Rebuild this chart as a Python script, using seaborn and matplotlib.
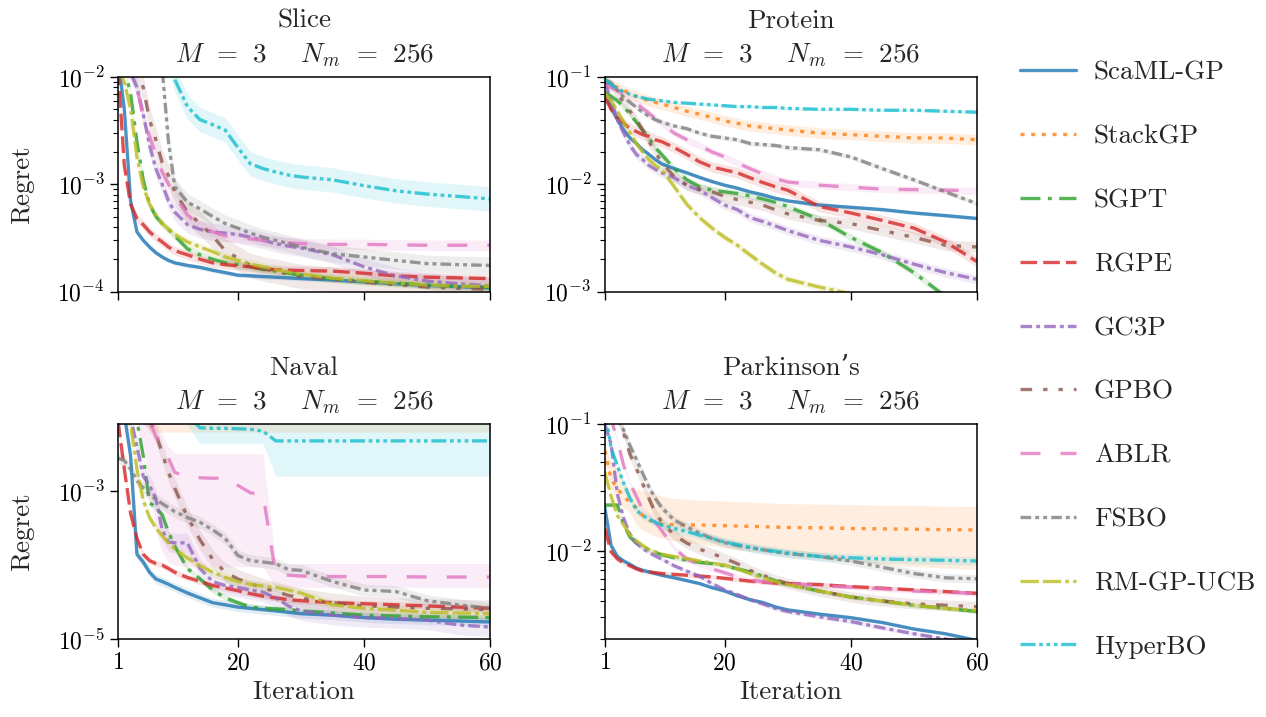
import numpy as np
import pandas as pd
import matplotlib
matplotlib.use("Agg")
import matplotlib.pyplot as plt
from matplotlib.lines import Line2D
from matplotlib.ticker import FixedLocator, NullLocator
import seaborn as sns

# ---------------- data ----------------
ITERS = [1, 2, 3, 4, 5, 6, 7, 8, 9, 10, 12, 14, 16, 18, 20, 22, 24, 26, 28, 30, 35, 40, 45, 50, 55, 60]
METHODS = ["ScaML-GP", "StackGP", "SGPT", "RGPE", "GC3P", "GPBO", "ABLR", "FSBO", "RM-GP-UCB", "HyperBO"]
PANELS = ["Slice", "Protein", "Naval", "Parkinson\u2019s"]
SUBTITLE = r"$M\;\,=\;\,3\quad\;\, N_m\;\,=\;\,256$"

SLICE = {
    "ScaML-GP": [1.5e-2, 5e-3, 7e-4, 3.6e-4, 3.0e-4, 2.6e-4, 2.3e-4, 2.1e-4, 1.95e-4, 1.85e-4, 1.75e-4, 1.68e-4, 1.58e-4, 1.5e-4, 1.42e-4, 1.4e-4, 1.38e-4, 1.36e-4, 1.34e-4, 1.32e-4, 1.28e-4, 1.23e-4, 1.18e-4, 1.14e-4, 1.11e-4, 1.08e-4],
    "StackGP": [4e-2, 3.8e-2, 3.6e-2, 3.5e-2, 3.4e-2, 3.3e-2, 3.2e-2, 3.1e-2, 3.0e-2, 3.0e-2, 2.9e-2, 2.8e-2, 2.7e-2, 2.6e-2, 2.5e-2, 2.5e-2, 2.4e-2, 2.4e-2, 2.3e-2, 2.3e-2, 2.2e-2, 2.1e-2, 2.0e-2, 2.0e-2, 1.9e-2, 1.9e-2],
    "SGPT": [1.5e-2, 1.2e-2, 7e-3, 2.5e-3, 1.1e-3, 6.5e-4, 5e-4, 4.3e-4, 3.8e-4, 3.3e-4, 2.5e-4, 2.2e-4, 2.0e-4, 1.85e-4, 1.78e-4, 1.7e-4, 1.6e-4, 1.55e-4, 1.48e-4, 1.42e-4, 1.32e-4, 1.25e-4, 1.2e-4, 1.15e-4, 1.12e-4, 1.1e-4],
    "RGPE": [1.2e-2, 1.5e-3, 6.5e-4, 4.8e-4, 4.2e-4, 3.6e-4, 3.2e-4, 2.9e-4, 2.6e-4, 2.4e-4, 2.2e-4, 2.0e-4, 1.85e-4, 1.78e-4, 1.74e-4, 1.7e-4, 1.62e-4, 1.6e-4, 1.58e-4, 1.57e-4, 1.55e-4, 1.48e-4, 1.4e-4, 1.36e-4, 1.34e-4, 1.32e-4],
    "GC3P": [1.5e-2, 1.3e-2, 1.1e-2, 8e-3, 4.5e-3, 2.3e-3, 1.4e-3, 1.0e-3, 7e-4, 5.5e-4, 4.2e-4, 3.8e-4, 3.6e-4, 3.5e-4, 3.4e-4, 3.2e-4, 3.0e-4, 2.8e-4, 2.65e-4, 2.55e-4, 2.2e-4, 1.7e-4, 1.4e-4, 1.25e-4, 1.18e-4, 1.13e-4],
    "GPBO": [1.5e-2, 1.4e-2, 1.3e-2, 1.1e-2, 8e-3, 4e-3, 2.6e-3, 1.6e-3, 1.2e-3, 8.5e-4, 5.5e-4, 4.3e-4, 3.3e-4, 2.4e-4, 2.05e-4, 1.75e-4, 1.62e-4, 1.55e-4, 1.45e-4, 1.38e-4, 1.3e-4, 1.22e-4, 1.16e-4, 1.1e-4, 1.07e-4, 1.05e-4],
    "ABLR": [1.5e-2, 1.3e-2, 1.1e-2, 8e-3, 4.2e-3, 2.8e-3, 1.9e-3, 1.3e-3, 1.0e-3, 7.8e-4, 5.2e-4, 4.1e-4, 3.6e-4, 3.3e-4, 3.2e-4, 3.1e-4, 3.0e-4, 2.9e-4, 2.85e-4, 2.8e-4, 2.75e-4, 2.75e-4, 2.72e-4, 2.7e-4, 2.7e-4, 2.7e-4],
    "FSBO": [2e-2, 2e-2, 2e-2, 2e-2, 2e-2, 1.9e-2, 1.7e-2, 1.2e-2, 2.5e-3, 9.5e-4, 6.8e-4, 5.9e-4, 5e-4, 4.3e-4, 3.9e-4, 3.5e-4, 3.2e-4, 3.0e-4, 2.8e-4, 2.6e-4, 2.25e-4, 2.1e-4, 1.95e-4, 1.82e-4, 1.78e-4, 1.75e-4],
    "RM-GP-UCB": [1.2e-2, 9e-3, 5e-3, 1.8e-3, 9.5e-4, 6.5e-4, 5.2e-4, 4.3e-4, 3.8e-4, 3.4e-4, 2.9e-4, 2.6e-4, 2.35e-4, 2.1e-4, 1.95e-4, 1.8e-4, 1.7e-4, 1.6e-4, 1.52e-4, 1.45e-4, 1.33e-4, 1.26e-4, 1.2e-4, 1.15e-4, 1.12e-4, 1.12e-4],
    "HyperBO": [2e-2, 2e-2, 2e-2, 2e-2, 2e-2, 2e-2, 2e-2, 2e-2, 1.5e-2, 9.5e-3, 5.3e-3, 4.0e-3, 3.6e-3, 3.2e-3, 2.2e-3, 1.55e-3, 1.4e-3, 1.3e-3, 1.22e-3, 1.17e-3, 1.1e-3, 9.7e-4, 8.7e-4, 8.1e-4, 7.7e-4, 7.3e-4],
}

PROTEIN = {
    "ScaML-GP": [0.07, 0.052, 0.04, 0.032, 0.027, 0.024, 0.021, 0.019, 0.017, 0.0155, 0.014, 0.0128, 0.0116, 0.0106, 0.0098, 0.0092, 0.0085, 0.008, 0.0074, 0.007, 0.0064, 0.0061, 0.0058, 0.0054, 0.0051, 0.0048],
    "StackGP": [0.09, 0.085, 0.08, 0.075, 0.07, 0.066, 0.063, 0.06, 0.058, 0.056, 0.052, 0.048, 0.045, 0.042, 0.039, 0.037, 0.035, 0.034, 0.033, 0.032, 0.03, 0.029, 0.028, 0.027, 0.027, 0.026],
    "SGPT": [0.072, 0.066, 0.06, 0.053, 0.045, 0.038, 0.032, 0.027, 0.022, 0.019, 0.014, 0.011, 0.0095, 0.0088, 0.0085, 0.0082, 0.0078, 0.0073, 0.0068, 0.0062, 0.0047, 0.0032, 0.0023, 0.0015, 0.0009, 0.0006],
    "RGPE": [0.065, 0.05, 0.042, 0.037, 0.033, 0.031, 0.029, 0.028, 0.026, 0.025, 0.022, 0.019, 0.0162, 0.0145, 0.0136, 0.0128, 0.0115, 0.0104, 0.0095, 0.0088, 0.0062, 0.0054, 0.0046, 0.0039, 0.0029, 0.0019],
    "GC3P": [0.09, 0.06, 0.04, 0.03, 0.023, 0.019, 0.017, 0.015, 0.0138, 0.0128, 0.0115, 0.0098, 0.0088, 0.0075, 0.0064, 0.0058, 0.0049, 0.0045, 0.0041, 0.0037, 0.003, 0.0026, 0.0022, 0.0018, 0.0015, 0.0013],
    "GPBO": [0.09, 0.085, 0.07, 0.058, 0.048, 0.04, 0.032, 0.025, 0.02, 0.016, 0.0118, 0.0098, 0.009, 0.0085, 0.0077, 0.0072, 0.0068, 0.0064, 0.0058, 0.0053, 0.0046, 0.0043, 0.0037, 0.0032, 0.0027, 0.0026],
    "ABLR": [0.085, 0.08, 0.075, 0.07, 0.063, 0.057, 0.051, 0.046, 0.041, 0.037, 0.03, 0.026, 0.023, 0.02, 0.018, 0.0158, 0.014, 0.0125, 0.0113, 0.0105, 0.0098, 0.0094, 0.009, 0.0089, 0.0088, 0.0087],
    "FSBO": [0.095, 0.088, 0.075, 0.065, 0.058, 0.052, 0.047, 0.043, 0.04, 0.038, 0.035, 0.033, 0.03, 0.028, 0.027, 0.026, 0.024, 0.0235, 0.023, 0.022, 0.021, 0.018, 0.014, 0.011, 0.0085, 0.0066],
    "RM-GP-UCB": [0.07, 0.06, 0.048, 0.038, 0.03, 0.024, 0.02, 0.017, 0.015, 0.0138, 0.0095, 0.0065, 0.0049, 0.0039, 0.0032, 0.0027, 0.0022, 0.0018, 0.0015, 0.0013, 0.0011, 0.00095, 0.0008, 0.0007, 0.0006, 0.0005],
    "HyperBO": [0.095, 0.085, 0.078, 0.073, 0.069, 0.066, 0.064, 0.062, 0.061, 0.06, 0.058, 0.057, 0.056, 0.055, 0.054, 0.053, 0.053, 0.052, 0.052, 0.051, 0.05, 0.05, 0.049, 0.049, 0.048, 0.047],
}

NAVAL = {
    "ScaML-GP": [1.5e-2, 1.1e-2, 3e-3, 1.4e-4, 1.1e-4, 8e-5, 6.5e-5, 6e-5, 5.5e-5, 5e-5, 4.2e-5, 3.6e-5, 3.1e-5, 2.9e-5, 2.7e-5, 2.6e-5, 2.5e-5, 2.4e-5, 2.3e-5, 2.2e-5, 2.1e-5, 1.95e-5, 1.85e-5, 1.8e-5, 1.75e-5, 1.7e-5],
    "StackGP": [2e-2, 2e-2, 1.9e-2, 1.8e-2, 1.7e-2, 1.6e-2, 1.6e-2, 1.5e-2, 1.5e-2, 1.5e-2, 1.45e-2, 1.4e-2, 1.4e-2, 1.4e-2, 1.35e-2, 1.35e-2, 1.3e-2, 1.3e-2, 1.3e-2, 1.3e-2, 1.25e-2, 1.25e-2, 1.2e-2, 1.2e-2, 1.2e-2, 1.2e-2],
    "SGPT": [1.2e-2, 1.1e-2, 1e-2, 9e-3, 3e-3, 7e-4, 6e-4, 4.8e-4, 2.8e-4, 1.8e-4, 9e-5, 6.5e-5, 4.6e-5, 3.6e-5, 3.1e-5, 2.7e-5, 2.6e-5, 2.55e-5, 2.5e-5, 2.4e-5, 2.25e-5, 2.1e-5, 2.05e-5, 2.0e-5, 1.98e-5, 1.95e-5],
    "RGPE": [9e-3, 2e-3, 5e-4, 2.3e-4, 1.4e-4, 1.15e-4, 1.05e-4, 1e-4, 9e-5, 8e-5, 6.8e-5, 6e-5, 5.3e-5, 4.9e-5, 4.5e-5, 4.1e-5, 3.8e-5, 3.6e-5, 3.4e-5, 3.3e-5, 3.1e-5, 3.0e-5, 2.9e-5, 2.8e-5, 2.7e-5, 2.6e-5],
    "GC3P": [1.2e-2, 1.1e-2, 1e-2, 4e-3, 1.6e-3, 1.2e-3, 8e-4, 3e-4, 2.05e-4, 2e-4, 2e-4, 9e-5, 6e-5, 5.3e-5, 5e-5, 4.6e-5, 4.3e-5, 3.6e-5, 2.8e-5, 2.4e-5, 2.1e-5, 1.95e-5, 1.9e-5, 1.8e-5, 1.55e-5, 1.45e-5],
    "GPBO": [1.2e-2, 1.2e-2, 1.2e-2, 1.2e-2, 1.1e-2, 9e-3, 6e-3, 3.3e-3, 1.8e-3, 1.1e-3, 4.5e-4, 2.2e-4, 1.2e-4, 8e-5, 6.5e-5, 5.6e-5, 4.9e-5, 4.4e-5, 3.9e-5, 3.6e-5, 3.1e-5, 2.8e-5, 2.7e-5, 2.6e-5, 2.55e-5, 2.5e-5],
    "ABLR": [1.5e-2, 1.5e-2, 1.4e-2, 1.3e-2, 1.2e-2, 9e-3, 5.5e-3, 4e-3, 2.8e-3, 1.8e-3, 1.55e-3, 1.52e-3, 1.5e-3, 1.5e-3, 1.2e-3, 9.5e-4, 9e-4, 7.6e-5, 7.3e-5, 7.1e-5, 7e-5, 7e-5, 7e-5, 6.9e-5, 6.9e-5, 6.9e-5],
    "FSBO": [2.8e-3, 2.6e-3, 2e-3, 1.4e-3, 1.1e-3, 9e-4, 7.8e-4, 6.8e-4, 6e-4, 5.3e-4, 4.4e-4, 3.8e-4, 3.0e-4, 2.3e-4, 1.35e-4, 1.15e-4, 1.1e-4, 1.05e-4, 8.7e-5, 8.5e-5, 6e-5, 4.6e-5, 4.4e-5, 3.3e-5, 2.9e-5, 2.6e-5],
    "RM-GP-UCB": [1.2e-2, 1.0e-2, 8e-3, 2e-3, 7.5e-4, 4.4e-4, 3.2e-4, 2.5e-4, 2.0e-4, 1.65e-4, 1.25e-4, 9.8e-5, 8e-5, 6.8e-5, 6e-5, 5.5e-5, 5.2e-5, 5e-5, 4.6e-5, 4.2e-5, 2.9e-5, 2.6e-5, 2.45e-5, 2.3e-5, 2.25e-5, 2.2e-5],
    "HyperBO": [1.5e-2, 1.5e-2, 1.5e-2, 1.5e-2, 1.5e-2, 1.5e-2, 1.5e-2, 1.5e-2, 1.5e-2, 1.4e-2, 1.1e-2, 7.2e-3, 7.1e-3, 7.1e-3, 7e-3, 6.9e-3, 6.5e-3, 4.8e-3, 4.8e-3, 4.8e-3, 4.8e-3, 4.8e-3, 4.8e-3, 4.8e-3, 4.8e-3, 4.8e-3],
}

PARKINSONS = {
    "ScaML-GP": [0.022, 0.011, 9e-3, 8.3e-3, 7.8e-3, 7.3e-3, 7e-3, 6.8e-3, 6.6e-3, 6.4e-3, 6.1e-3, 5.8e-3, 5.5e-3, 5.1e-3, 4.8e-3, 4.4e-3, 4.1e-3, 3.9e-3, 3.6e-3, 3.4e-3, 3.15e-3, 2.95e-3, 2.7e-3, 2.4e-3, 2.2e-3, 1.95e-3],
    "StackGP": [0.062, 0.037, 0.031, 0.027, 0.024, 0.022, 0.019, 0.0175, 0.0168, 0.0163, 0.0161, 0.016, 0.016, 0.0159, 0.0158, 0.0157, 0.0156, 0.0155, 0.0154, 0.0153, 0.0152, 0.015, 0.0149, 0.0148, 0.0147, 0.0146],
    "SGPT": [0.023, 0.023, 0.023, 0.016, 0.0128, 0.0115, 0.0107, 0.0102, 9.7e-3, 9.3e-3, 8.8e-3, 8.4e-3, 8.1e-3, 7.9e-3, 7.6e-3, 7.2e-3, 6.8e-3, 6.3e-3, 5.8e-3, 5.4e-3, 4.8e-3, 4.3e-3, 4.0e-3, 3.7e-3, 3.5e-3, 3.3e-3],
    "RGPE": [0.015, 0.0098, 8.6e-3, 8e-3, 7.6e-3, 7.2e-3, 6.9e-3, 6.8e-3, 6.7e-3, 6.6e-3, 6.5e-3, 6.4e-3, 6.3e-3, 6.2e-3, 6.05e-3, 5.9e-3, 5.75e-3, 5.65e-3, 5.55e-3, 5.5e-3, 5.4e-3, 5.2e-3, 5.05e-3, 4.9e-3, 4.75e-3, 4.6e-3],
    "GC3P": [0.1, 0.07, 0.028, 0.018, 0.0135, 0.0115, 0.0104, 9.7e-3, 9.1e-3, 8.6e-3, 7.6e-3, 6.9e-3, 6.3e-3, 5.5e-3, 4.9e-3, 4.5e-3, 4.1e-3, 3.8e-3, 3.5e-3, 3.3e-3, 3.0e-3, 2.75e-3, 2.45e-3, 2.2e-3, 2.0e-3, 1.85e-3],
    "GPBO": [0.15, 0.14, 0.12, 0.085, 0.058, 0.045, 0.034, 0.026, 0.02, 0.017, 0.0133, 0.0115, 0.0103, 9.5e-3, 8.7e-3, 7.9e-3, 7.0e-3, 6.4e-3, 5.9e-3, 5.5e-3, 4.8e-3, 4.3e-3, 4.0e-3, 3.8e-3, 3.7e-3, 3.6e-3],
    "ABLR": [0.12, 0.11, 0.075, 0.047, 0.034, 0.027, 0.021, 0.019, 0.0168, 0.0145, 0.0105, 8.6e-3, 7.8e-3, 7.2e-3, 6.7e-3, 6.2e-3, 5.9e-3, 5.7e-3, 5.6e-3, 5.5e-3, 5.3e-3, 5.15e-3, 5.0e-3, 4.8e-3, 4.7e-3, 4.6e-3],
    "FSBO": [0.2, 0.15, 0.11, 0.09, 0.068, 0.053, 0.041, 0.032, 0.026, 0.022, 0.0175, 0.0155, 0.0138, 0.0125, 0.0116, 0.011, 0.0106, 0.0102, 9.8e-3, 9.5e-3, 9e-3, 8.3e-3, 7.4e-3, 6.6e-3, 6.1e-3, 6.0e-3],
    "RM-GP-UCB": [0.042, 0.027, 0.019, 0.016, 0.0134, 0.012, 0.011, 0.0102, 9.8e-3, 9.4e-3, 9e-3, 8.7e-3, 8.3e-3, 8e-3, 7.7e-3, 7.2e-3, 6.6e-3, 6.1e-3, 5.7e-3, 5.4e-3, 4.8e-3, 4.3e-3, 4.0e-3, 3.7e-3, 3.5e-3, 3.35e-3],
    "HyperBO": [0.13, 0.065, 0.047, 0.034, 0.026, 0.021, 0.019, 0.0178, 0.0168, 0.016, 0.015, 0.0142, 0.0133, 0.0125, 0.0117, 0.0112, 0.0106, 0.0102, 9.9e-3, 9.6e-3, 9e-3, 8.8e-3, 8.6e-3, 8.5e-3, 8.4e-3, 8.3e-3],
}

# relative half-width of the shaded bands (multiplicative), per method
SPREAD_SLICE = [1.05, 1.15, 1.08, 1.1, 1.2, 1.3, 1.12, 1.2, 1.1, 1.3]
SPREAD_PROTEIN = [1.04, 1.12, 1.08, 1.12, 1.1, 1.12, 1.08, 1.05, 1.08, 1.03]
SPREAD_NAVAL = [1.15, 1.2, 1.1, 1.1, 1.35, 1.35, 1.2, 1.2, 1.15, 1.2]
SPREAD_PARKINSONS = [1.03, 1.1, 1.04, 1.04, 1.04, 1.1, 1.05, 1.08, 1.04, 1.08]

# explicitly read wide bands
NAVAL_BAND_LO = {
    "StackGP": [1e-2, 1e-2, 1e-2, 1e-2, 1e-2, 6.3e-3, 6.3e-3, 6.3e-3, 6.3e-3, 6.3e-3, 6.3e-3, 6.3e-3, 6.3e-3, 6.3e-3, 6.3e-3, 6.3e-3, 6.3e-3, 6.3e-3, 6.3e-3, 6.3e-3, 6.3e-3, 6.3e-3, 6.3e-3, 6.3e-3, 6.3e-3, 6.3e-3],
    "HyperBO": [1e-2, 1e-2, 1e-2, 1e-2, 1e-2, 1e-2, 1e-2, 1e-2, 1e-2, 1e-2, 8e-3, 4.4e-3, 4.4e-3, 4.4e-3, 4.4e-3, 4.4e-3, 4.4e-3, 1.6e-3, 1.6e-3, 1.6e-3, 1.6e-3, 1.6e-3, 1.6e-3, 1.6e-3, 1.6e-3, 1.6e-3],
    "ABLR": [1e-2, 1e-2, 1e-2, 8e-3, 4e-3, 1e-3, 3e-4, 1.5e-4, 1.1e-4, 1e-4, 9.5e-5, 9.5e-5, 9.5e-5, 9.5e-5, 9.5e-5, 9.5e-5, 9.5e-5, 5e-5, 5e-5, 5e-5, 5e-5, 5e-5, 5e-5, 5e-5, 5e-5, 5e-5],
}
NAVAL_BAND_HI = {
    "StackGP": [3e-2] * 26,
    "HyperBO": [2e-2] * 26,
    "ABLR": [2e-2, 2e-2, 2e-2, 2e-2, 2e-2, 1.5e-2, 1e-2, 6e-3, 4e-3, 3.3e-3, 3.2e-3, 3.2e-3, 3.2e-3, 3.2e-3, 3.2e-3, 3.2e-3, 3.2e-3, 1.05e-4, 1.05e-4, 1.05e-4, 1.05e-4, 1.05e-4, 1.05e-4, 1.05e-4, 1.05e-4, 1.05e-4],
}
PARK_BAND_LO = {
    "StackGP": [0.05, 0.03, 0.025, 0.022, 0.02, 0.016, 0.0145, 0.0138, 0.013, 0.0126, 0.012, 0.0117, 0.0113, 0.011, 0.0105, 0.0102, 0.01, 0.0098, 0.0095, 0.0092, 0.0087, 0.0082, 0.0078, 0.0075, 0.0073, 0.0071],
}
PARK_BAND_HI = {
    "StackGP": [0.07, 0.05, 0.045, 0.035, 0.031, 0.031, 0.03, 0.029, 0.028, 0.027, 0.026, 0.0255, 0.025, 0.025, 0.0248, 0.0245, 0.0243, 0.024, 0.0238, 0.0236, 0.0234, 0.0232, 0.023, 0.0228, 0.0226, 0.0225],
}

# ---------------- style ----------------
COLORS = sns.color_palette("tab10", 10)
PALETTE = dict(zip(METHODS, COLORS))
DASHES = {
    "ScaML-GP": "",
    "StackGP": (1.2, 2.0),
    "SGPT": (6.0, 2.2, 1.2, 2.2),
    "RGPE": (5.0, 1.8),
    "GC3P": (3.5, 1.2, 1.2, 1.2),
    "GPBO": (3.5, 3.3, 1.3, 3.3, 1.3, 3.3),
    "ABLR": (6.0, 6.0),
    "FSBO": (3.2, 1.2, 1.2, 1.2, 1.2, 1.2),
    "RM-GP-UCB": (5.5, 1.2, 5.5, 1.2, 1.2, 1.2),
    "HyperBO": (4.5, 1.1, 1.1, 1.1, 1.1, 1.1, 1.1, 1.1),
}
LW = 2.4
ALPHA = 0.8
FS = 19.5

sns.set_theme(style="ticks")
plt.rcParams.update({
    "font.family": ["cmr10", "DejaVu Serif"],
    "mathtext.fontset": "cm",
    "axes.formatter.use_mathtext": True,
    "axes.unicode_minus": False,
    "axes.edgecolor": "black",
    "axes.linewidth": 1.1,
    "xtick.color": "black",
    "ytick.color": "black",
    "xtick.major.size": 6,
    "ytick.major.size": 6,
    "ytick.minor.size": 3.5,
    "xtick.major.width": 1.0,
    "ytick.major.width": 1.0,
    "ytick.minor.width": 0.8,
})

fig, axes = plt.subplots(2, 2, figsize=(12.66, 7.17), dpi=100, sharex=True)
fig.subplots_adjust(left=0.0932, right=0.7717, top=0.8926, bottom=0.1088, wspace=0.308, hspace=0.62)

panel_data = [SLICE, PROTEIN, NAVAL, PARKINSONS]
panel_spread = [SPREAD_SLICE, SPREAD_PROTEIN, SPREAD_NAVAL, SPREAD_PARKINSONS]
panel_lo = [{}, {}, NAVAL_BAND_LO, PARK_BAND_LO]
panel_hi = [{}, {}, NAVAL_BAND_HI, PARK_BAND_HI]
ylims = [(1e-4, 1e-2), (1e-3, 1e-1), (1e-5, 8e-3), (2e-3, 1e-1)]

for k, ax in enumerate(axes.flat):
    data = panel_data[k]
    rows = []
    for m in METHODS:
        for it, v in zip(ITERS, data[m]):
            rows.append((it, v, m))
    df = pd.DataFrame(rows, columns=["Iteration", "Regret", "Method"])

    for j, m in enumerate(METHODS):
        vals = np.array(data[m])
        if m in panel_lo[k]:
            lo = np.array(panel_lo[k][m]); hi = np.array(panel_hi[k][m])
        else:
            s = panel_spread[k][j]
            lo = vals / s; hi = vals * s
        ax.fill_between(ITERS, lo, hi, color=PALETTE[m], alpha=0.13, lw=0, zorder=1)

    sns.lineplot(data=df, x="Iteration", y="Regret", hue="Method", style="Method",
                 hue_order=METHODS, style_order=METHODS, palette=PALETTE, dashes=DASHES,
                 lw=LW, alpha=ALPHA, ax=ax, legend=False, errorbar=None, zorder=2)

    ax.set_yscale("log")
    ax.set_xlim(1, 60)
    ax.set_ylim(*ylims[k])
    ax.set_xticks([1, 20, 40, 60])
    ax.tick_params(axis="both", labelsize=17, direction="out")
    ax.annotate(SUBTITLE, xy=(0.5, 1.0), xycoords="axes fraction", xytext=(0, 10.8),
                textcoords="offset points", ha="center", va="baseline", fontsize=FS)
    ax.annotate(PANELS[k], xy=(0.5, 1.0), xycoords="axes fraction", xytext=(0, 35.3),
                textcoords="offset points", ha="center", va="baseline", fontsize=FS)
    ax.set_xlabel("Iteration" if k >= 2 else "", fontsize=FS)
    if k % 2 == 0:
        ax.set_ylabel("Regret", fontsize=FS)
        ax.yaxis.set_label_coords(-0.225, 0.5)
    else:
        ax.set_ylabel("")
    for sp in ax.spines.values():
        sp.set_visible(True)
        sp.set_color("black")

axes[1, 0].yaxis.set_major_locator(FixedLocator([1e-5, 1e-3]))
axes[1, 0].yaxis.set_minor_locator(NullLocator())

handles = []
for m in METHODS:
    h = Line2D([0], [0], color=PALETTE[m], lw=LW, alpha=ALPHA)
    if DASHES[m]:
        h.set_dashes(DASHES[m])
    handles.append(h)
fig.legend(handles, METHODS, loc="upper left", bbox_to_anchor=(1020 / 1266, 1 - 61 / 717),
           frameon=False, fontsize=FS, handlelength=2.05, handletextpad=0.68,
           labelspacing=1.47, borderpad=0, borderaxespad=0)

fig.savefig("out.png", dpi=100)
